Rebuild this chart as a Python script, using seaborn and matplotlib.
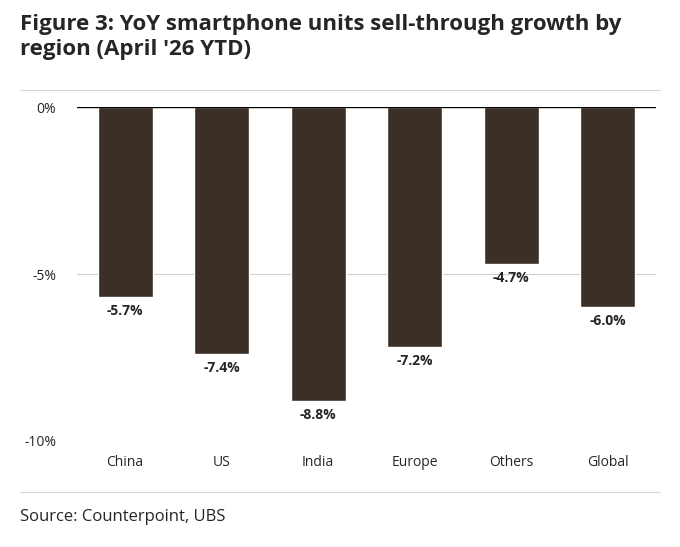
import matplotlib.pyplot as plt
import seaborn as sns
import pandas as pd

regions = ['China', 'US', 'India', 'Europe', 'Others', 'Global']
growth = [-5.7, -7.4, -8.8, -7.2, -4.7, -6.0]
yticks = [0, -5, -10]
ytick_labels = ['0%', '-5%', '-10%']

sns.set_style('white')
plt.rcParams['font.family'] = ['Open Sans', 'DejaVu Sans']

df = pd.DataFrame({'region': regions, 'growth': growth})
fig = plt.figure(figsize=(6.8, 5.47), dpi=100)
ax = fig.add_axes([0.113, 0.194, 0.852, 0.61])
sns.barplot(data=df, x='region', y='growth', color='#3b2f27', saturation=1, width=0.57, ax=ax)
ax.set_ylim(-10, 0)
ax.set_yticks(yticks)
ax.set_yticklabels(ytick_labels, fontsize=10)
ax.tick_params(axis='x', labelsize=10, length=0, pad=10)
ax.tick_params(axis='y', length=0, pad=15)
for y in [-5, -10]:
    ax.axhline(y, color='#d0d0d0', lw=0.8, zorder=0)
ax.axhline(0, color='black', lw=1, zorder=3)
for s in ax.spines.values():
    s.set_visible(False)
ax.set_xlabel('')
ax.set_ylabel('')
for i, v in enumerate(growth):
    ax.text(i, v - 0.2, f'{v:.1f}%', ha='center', va='top', fontsize=10, fontweight='bold', clip_on=False)

fig.text(0.03, 0.975, "Figure 3: YoY smartphone units sell-through growth by\nregion (April '26 YTD)",
         fontsize=16, fontweight='bold', va='top', ha='left', linespacing=1.25)
fig.add_artist(plt.Line2D([0.03, 0.97], [0.835, 0.835], color='#d9d9d9', lw=0.8))
fig.add_artist(plt.Line2D([0.03, 0.97], [0.1, 0.1], color='#d9d9d9', lw=0.8))
fig.text(0.03, 0.055, 'Source: Counterpoint, UBS', fontsize=12, va='center', ha='left')
fig.savefig('out.png', dpi=100)
